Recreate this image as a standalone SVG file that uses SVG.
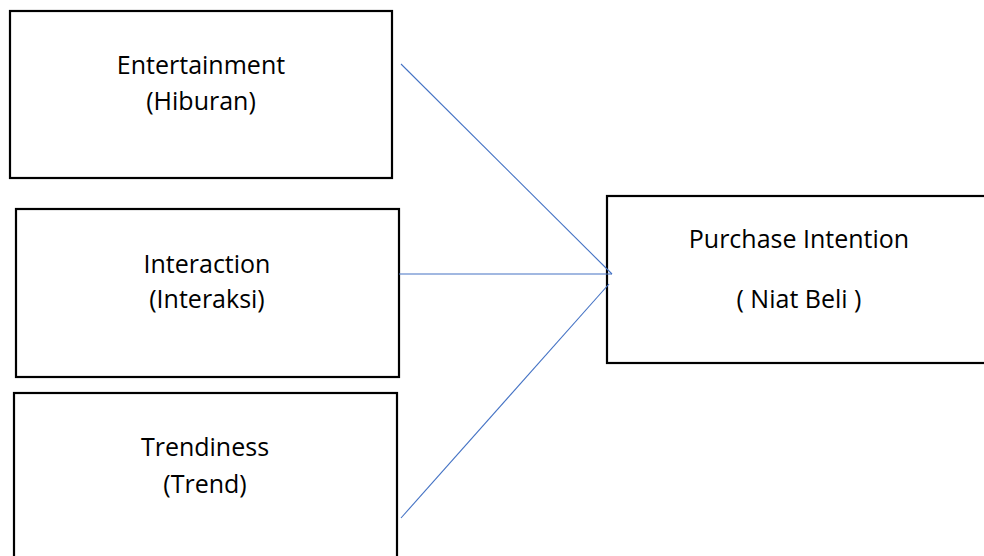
<svg xmlns="http://www.w3.org/2000/svg" width="984" height="556" viewBox="0 0 984 556">
<style>
.box{fill:#fff;stroke:#000;stroke-width:2.2}
.t{font-family:"Open Sans","Liberation Sans",sans-serif;font-size:25px;fill:#000;text-anchor:middle}
.c{stroke:#4472C4;stroke-width:1.1;fill:none}
</style>
<rect width="984" height="556" fill="#fff"/>
<g id="entertainment">
<rect class="box" x="10" y="11" width="382" height="167"/>
<text class="t" x="201" y="74">Entertainment</text>
<text class="t" x="201" y="110">(Hiburan)</text>
</g>
<g id="interaction">
<rect class="box" x="16" y="209" width="383" height="168"/>
<text class="t" x="207" y="273">Interaction</text>
<text class="t" x="207" y="308">(Interaksi)</text>
</g>
<g id="trendiness">
<rect class="box" x="14" y="393" width="383" height="175"/>
<text class="t" x="205" y="456">Trendiness</text>
<text class="t" x="205" y="493">(Trend)</text>
</g>
<g id="purchase">
<rect class="box" x="607" y="196" width="400" height="167"/>
<text class="t" x="799" y="248">Purchase Intention</text>
<text class="t" x="799" y="308">( Niat Beli )</text>
</g>
<g id="connectors">
<line class="c" x1="401" y1="64" x2="612" y2="274"/>
<line class="c" x1="399" y1="274" x2="612" y2="274"/>
<line class="c" x1="401" y1="518" x2="609" y2="284"/>
</g>
</svg>
